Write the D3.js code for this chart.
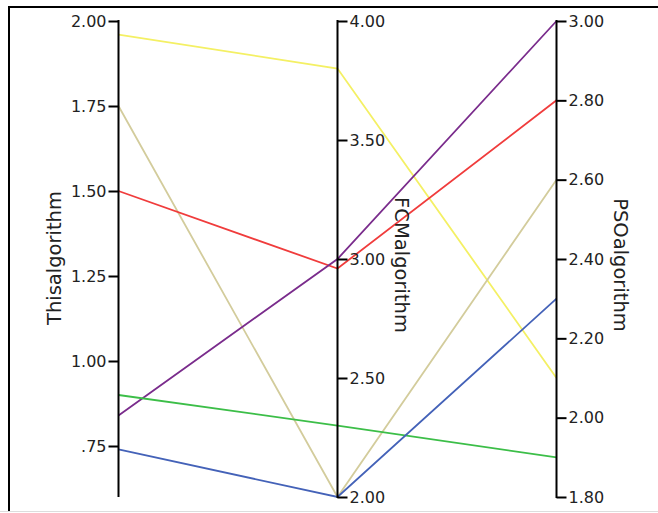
<!DOCTYPE html>
<html>
<head>
<meta charset="utf-8">
<script src="https://cdn.jsdelivr.net/npm/d3@7"></script>
<style>
  body { margin: 0; background: #fff; }
  text { font-family: "DejaVu Sans", Verdana, sans-serif; fill: #222; }
</style>
</head>
<body>
<svg width="658" height="513"></svg>
<script>
// dimenzije (osi) i podaci
var dimensions = ["Thisalgorithm", "FCMalgorithm", "PSOalgorithm"];
var thisValues = [1.96, 1.75, 1.50, 0.84, 0.90, 0.74];
var fcmValues = [3.80, 2.00, 2.96, 3.00, 2.30, 2.00];
var psoValues = [2.10, 2.60, 2.80, 3.00, 1.90, 2.30];
var lineColors = ["#f4f064", "#d3cc9c", "#f03c3c", "#7a2c8c", "#3cbe48", "#4462b8"];

var thisTicks = [0.75, 1.00, 1.25, 1.50, 1.75, 2.00];
var fcmTicks = [2.00, 2.50, 3.00, 3.50, 4.00];
var psoTicks = [1.80, 2.00, 2.20, 2.40, 2.60, 2.80, 3.00];

var svg = d3.select("svg");

// okvir (samo lijeva i gornja ivica crne)
svg.append("path")
  .attr("d", "M9,511V7H660")
  .attr("fill", "none").attr("stroke", "#000").attr("stroke-width", 2);
svg.append("line")
  .attr("x1", 0).attr("x2", 658).attr("y1", 511.5).attr("y2", 511.5)
  .attr("stroke", "#ddd");

var x = d3.scalePoint().domain(dimensions).range([118.5, 556.5]);

var y = {
  Thisalgorithm: d3.scaleLinear().domain([0.6, 2.0]).range([497, 21]),
  FCMalgorithm: d3.scaleLinear().domain([2.0, 4.0]).range([497, 21]),
  PSOalgorithm: d3.scaleLinear().domain([1.8, 3.0]).range([497, 21])
};

var rows = thisValues.map(function(v, i) {
  return { Thisalgorithm: v, FCMalgorithm: fcmValues[i], PSOalgorithm: psoValues[i], color: lineColors[i] };
});

var line = d3.line();

// linije
svg.append("g")
  .selectAll("path")
  .data(rows)
  .join("path")
  .attr("d", function(d) {
    return line(dimensions.map(function(k) { return [x(k), y[k](d[k])]; }));
  })
  .attr("fill", "none")
  .attr("stroke", function(d) { return d.color; })
  .attr("stroke-width", 1.8);

var fmtThis = function(d) { var s = d.toFixed(2); return d < 1 ? s.replace(/^0/, "") : s; };
var fmt2 = d3.format(".2f");

function styleAxis(g) {
  g.select(".domain").remove();
  g.selectAll(".tick line").attr("stroke", "#000").attr("stroke-width", 2);
  g.selectAll(".tick text").style("font-size", "16px").attr("fill", "#222");
}

// osa 1
var g1 = svg.append("g").attr("transform", "translate(" + x("Thisalgorithm") + ",0)");
g1.call(d3.axisLeft(y.Thisalgorithm).tickValues(thisTicks).tickFormat(fmtThis).tickSize(10).tickPadding(2))
  .call(styleAxis);
g1.append("line").attr("y1", 20).attr("y2", 497).attr("stroke", "#000").attr("stroke-width", 2);
g1.append("text")
  .attr("transform", "translate(-58,258) rotate(-90)")
  .attr("text-anchor", "middle")
  .style("font-size", "19.5px")
  .text("Thisalgorithm");

// osa 2
var g2 = svg.append("g").attr("transform", "translate(" + x("FCMalgorithm") + ",0)");
g2.call(d3.axisRight(y.FCMalgorithm).tickValues(fcmTicks).tickFormat(fmt2).tickSize(10).tickPadding(2))
  .call(styleAxis);
g2.append("line").attr("y1", 20).attr("y2", 498).attr("stroke", "#000").attr("stroke-width", 2);
g2.append("text")
  .attr("transform", "translate(57,265) rotate(90)")
  .attr("text-anchor", "middle")
  .style("font-size", "19.5px")
  .text("FCMalgorithm");

// osa 3
var g3 = svg.append("g").attr("transform", "translate(" + x("PSOalgorithm") + ",0)");
g3.call(d3.axisRight(y.PSOalgorithm).tickValues(psoTicks).tickFormat(fmt2).tickSize(10).tickPadding(2))
  .call(styleAxis);
g3.append("line").attr("y1", 20).attr("y2", 498).attr("stroke", "#000").attr("stroke-width", 2);
g3.append("text")
  .attr("transform", "translate(57,265) rotate(90)")
  .attr("text-anchor", "middle")
  .style("font-size", "19.5px")
  .text("PSOalgorithm");
</script>
</body>
</html>
